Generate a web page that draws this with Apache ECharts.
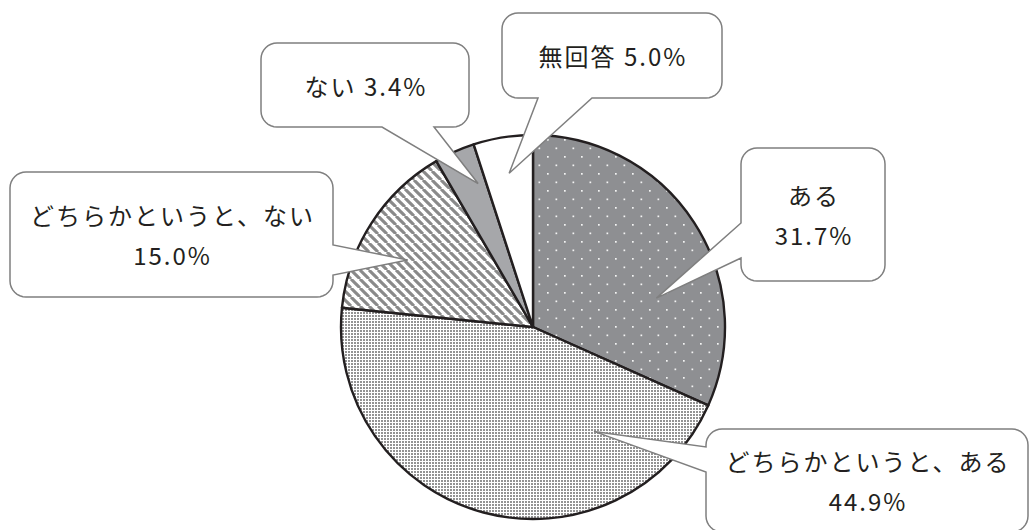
<!DOCTYPE html>
<html>
<head>
<meta charset="utf-8">
<script src="https://cdn.jsdelivr.net/npm/echarts@6.0.0/dist/echarts.min.js"></script>
<style>
  html, body { margin: 0; padding: 0; background: #ffffff; }
  #chart { width: 1030px; height: 530px; }
  #chart svg text { letter-spacing: 2px; }
</style>
</head>
<body>
<div id="chart"></div>
<script>
// Survey answers, clockwise from 12 o'clock
const categories = ['ある', 'どちらかというと、ある', 'どちらかというと、ない', 'ない', '無回答'];
const percents = [31.7, 44.9, 15.0, 3.4, 5.0];

// Callout layout: box [left, top, right, bottom], side the pointer leaves from,
// where the pointer base meets that side, and where the pointer tip sits
// (fraction along the slice's arc span, fraction of the pie radius).
const calloutBoxes = [[741, 148, 885, 281], [706, 429, 1028, 532], [10, 172, 333, 297], [261, 43, 469, 127], [502, 13, 722, 98]];
const calloutSides = ['left', 'left', 'right', 'bottom', 'bottom'];
const calloutBases = [[223, 258], [447, 472], [245, 275], [382, 434], [538, 592]];
const tipSpots = [[0.673, 0.66], [0.22, 0.63], [0.415, 0.74], [0.76, 0.80], [0.51, 0.81]];
const singleLine = [false, false, false, true, true];

const FONT = '24px "Noto Sans CJK JP", "Noto Sans", sans-serif';
const LETTER_SPACING = 2;
const INK = '#231f20';

function makeTile(w, h, draw) {
  const c = document.createElement('canvas');
  c.width = w; c.height = h;
  draw(c.getContext('2d'), w, h);
  return { image: c.toDataURL(), repeat: 'repeat', imageWidth: w, imageHeight: h };
}

// dark grey with sparse white dots
const dotsOnGrey = makeTile(17, 17, (ctx, w, h) => {
  ctx.fillStyle = '#8e8f92'; ctx.fillRect(0, 0, w, h);
  ctx.fillStyle = '#f4f4f4';
  ctx.fillRect(3, 3, 1.7, 1.7);
  ctx.fillRect(11.5, 11.5, 1.7, 1.7);
});
// fine grey screen on white
const fineScreen = makeTile(3, 3, (ctx, w, h) => {
  ctx.fillStyle = '#ffffff'; ctx.fillRect(0, 0, w, h);
  ctx.fillStyle = '#939393'; ctx.fillRect(0, 0, 2, 2);
});
// diagonal grey stripes, falling to the right
const stripes = makeTile(9, 9, (ctx, w, h) => {
  ctx.fillStyle = '#ffffff'; ctx.fillRect(0, 0, w, h);
  ctx.strokeStyle = '#8a8a8a'; ctx.lineWidth = 3.1;
  for (let a = -18; a <= 18; a += 9) {
    ctx.beginPath(); ctx.moveTo(a, 0); ctx.lineTo(a + 9, 9); ctx.stroke();
  }
});
const sliceFills = [dotsOnGrey, fineScreen, stripes, '#a6a7aa', '#ffffff'];

const chart = echarts.init(document.getElementById('chart'), null, { renderer: 'svg' });

chart.setOption({
  animation: false,
  backgroundColor: '#ffffff',
  series: [{
    type: 'pie',
    center: [533, 327],
    radius: 192,
    startAngle: 90,
    clockwise: true,
    silent: true,
    label: { show: false },
    labelLine: { show: false },
    emphasis: { disabled: true },
    itemStyle: { borderColor: INK, borderWidth: 2.4 },
    data: categories.map((name, i) => ({
      name, value: percents[i], itemStyle: { color: sliceFills[i] }
    }))
  }]
});

function corner(points, cx, cy, r, a0, a1) {
  const n = 8;
  for (let k = 0; k <= n; k++) {
    const a = (a0 + (a1 - a0) * k / n) * Math.PI / 180;
    points.push([cx + r * Math.cos(a), cy + r * Math.sin(a)]);
  }
}

function calloutOutline(box, side, base, tip) {
  const [x0, y0, x1, y1] = box;
  const r = 16;
  const pts = [];
  corner(pts, x1 - r, y0 + r, r, -90, 0);
  if (side === 'right') pts.push([x1, base[0]], tip, [x1, base[1]]);
  corner(pts, x1 - r, y1 - r, r, 0, 90);
  if (side === 'bottom') pts.push([base[1], y1], tip, [base[0], y1]);
  corner(pts, x0 + r, y1 - r, r, 90, 180);
  if (side === 'left') pts.push([x0, base[1]], tip, [x0, base[0]]);
  corner(pts, x0 + r, y0 + r, r, 180, 270);
  return pts;
}

// Pointer tips come from the pie's computed sector geometry
const pieData = chart.getModel().getSeriesByIndex(0).getData();
const elements = [];
categories.forEach((name, i) => {
  const lay = pieData.getItemLayout(i);
  const [t, rf] = tipSpots[i];
  const ang = lay.startAngle + (lay.endAngle - lay.startAngle) * t;
  const tip = [lay.cx + lay.r * rf * Math.cos(ang), lay.cy + lay.r * rf * Math.sin(ang)];
  const box = calloutBoxes[i];
  elements.push({
    type: 'polygon',
    z: 100,
    silent: true,
    shape: { points: calloutOutline(box, calloutSides[i], calloutBases[i], tip) },
    style: { fill: '#ffffff', stroke: '#7f7f7f', lineWidth: 1.5, lineJoin: 'miter' }
  });
  const pct = percents[i].toFixed(1) + '%';
  const lines = singleLine[i] ? [name + ' ' + pct] : [name, pct];
  const cx = (box[0] + box[2]) / 2 + LETTER_SPACING / 2;
  const cy = (box[1] + box[3]) / 2;
  const lh = 40;
  lines.forEach((txt, j) => {
    elements.push({
      type: 'text',
      z: 101,
      silent: true,
      style: {
        text: txt,
        x: cx,
        y: cy + (j - (lines.length - 1) / 2) * lh,
        font: FONT,
        fill: INK,
        textAlign: 'center',
        textVerticalAlign: 'middle',
        align: 'center',
        verticalAlign: 'middle'
      }
    });
  });
});

chart.setOption({ graphic: { elements } });
</script>
</body>
</html>
